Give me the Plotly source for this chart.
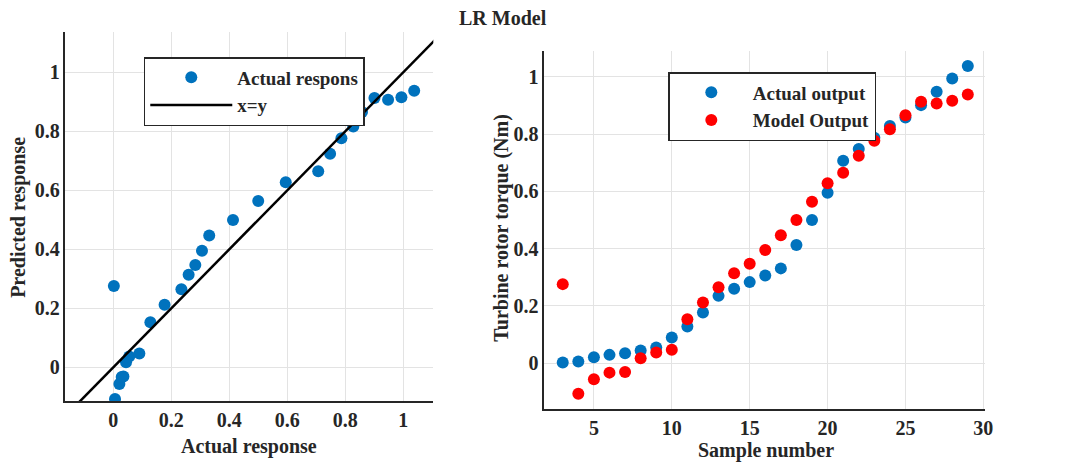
import plotly.graph_objects as go

# Data (samples 3..29)
samples = list(range(3, 30))
actual_output = [0.002, 0.006, 0.021, 0.029, 0.035, 0.044, 0.055, 0.090, 0.128, 0.177,
                 0.235, 0.260, 0.283, 0.306, 0.331, 0.413, 0.500, 0.595, 0.707, 0.748,
                 0.787, 0.828, 0.858, 0.901, 0.948, 0.994, 1.038]
model_output = [0.276, -0.107, -0.056, -0.033, -0.031, 0.017, 0.037, 0.047, 0.153, 0.212,
                0.265, 0.314, 0.347, 0.395, 0.447, 0.500, 0.564, 0.628, 0.665, 0.724,
                0.777, 0.817, 0.866, 0.913, 0.907, 0.916, 0.938]
identity_line = [-0.3, 1.3]

W, H = 1066, 463
FONT = "Liberation Serif"
BLUE = "#0072BD"
RED = "#FF0000"
INK = "#262626"

fig = go.Figure()

fig.add_trace(go.Scatter(x=actual_output, y=model_output, mode="markers",
                         marker=dict(color=BLUE, size=12), name="Actual respons",
                         xaxis="x", yaxis="y", legend="legend"))
fig.add_trace(go.Scatter(x=identity_line, y=identity_line, mode="lines",
                         line=dict(color="black", width=2.5), name="x=y",
                         xaxis="x", yaxis="y", legend="legend"))
fig.add_trace(go.Scatter(x=samples, y=actual_output, mode="markers",
                         marker=dict(color=BLUE, size=12), name="Actual output",
                         xaxis="x2", yaxis="y2", legend="legend2"))
fig.add_trace(go.Scatter(x=samples, y=model_output, mode="markers",
                         marker=dict(color=RED, size=12), name="Model Output",
                         xaxis="x2", yaxis="y2", legend="legend2"))

def px_x(p):
    return p / W

def px_y(p):
    return 1 - p / H

tickfont = dict(family=FONT, size=20, color=INK, weight="bold")
axis_common = dict(showline=True, linecolor=INK, linewidth=1.5, showgrid=True,
                   gridcolor="#e3e3e3", gridwidth=1, zeroline=False, ticks="",
                   tickfont=tickfont, mirror=False)
legend_font = dict(family=FONT, size=19, color=INK, weight="bold")

fig.update_layout(
    width=W, height=H,
    margin=dict(l=0, r=0, t=0, b=0),
    plot_bgcolor="white", paper_bgcolor="white",
    font=dict(family=FONT, size=20, color=INK),
    xaxis=dict(domain=[px_x(66), px_x(437)], range=[-0.165, 1.104], tick0=0, dtick=0.2,
               anchor="y", **axis_common),
    yaxis=dict(domain=[px_y(401), px_y(32)], range=[-0.114, 1.137], tick0=0, dtick=0.2,
               anchor="x", **axis_common),
    xaxis2=dict(domain=[px_x(549), px_x(993)], range=[1.82, 30.08], tick0=0, dtick=5,
                anchor="y2", **axis_common),
    yaxis2=dict(domain=[px_y(409), px_y(51)], range=[-0.160, 1.090], tick0=0, dtick=0.2,
                anchor="x2", **axis_common),
    legend=dict(x=px_x(145), y=px_y(57), xanchor="left", yanchor="top",
                bgcolor="white", bordercolor=INK, borderwidth=1.5,
                font=legend_font, itemwidth=82, tracegroupgap=0),
    legend2=dict(x=px_x(674), y=px_y(72), xanchor="left", yanchor="top",
                 bgcolor="white", bordercolor=INK, borderwidth=1.5,
                 font=legend_font, itemwidth=73, tracegroupgap=0),
    showlegend=True,
)

annotations = [
    dict(text="<b>LR Model</b>", x=px_x(507), y=px_y(18)),
    dict(text="<b>Actual response</b>", x=px_x(251), y=px_y(446)),
    dict(text="<b>Predicted response</b>", x=px_x(18), y=px_y(217), textangle=-90),
    dict(text="<b>Sample number</b>", x=px_x(773), y=px_y(450)),
    dict(text="<b>Turbine rotor torque (Nm)</b>", x=px_x(505), y=px_y(228), textangle=-90),
]
for a in annotations:
    fig.add_annotation(xref="paper", yref="paper", xanchor="center", yanchor="middle",
                       showarrow=False, font=dict(family=FONT, size=20, color=INK), **a)

fig.write_html("out.html", config={"displayModeBar": False},
               post_script="document.body.style.margin='0';document.body.style.overflow='hidden';")
